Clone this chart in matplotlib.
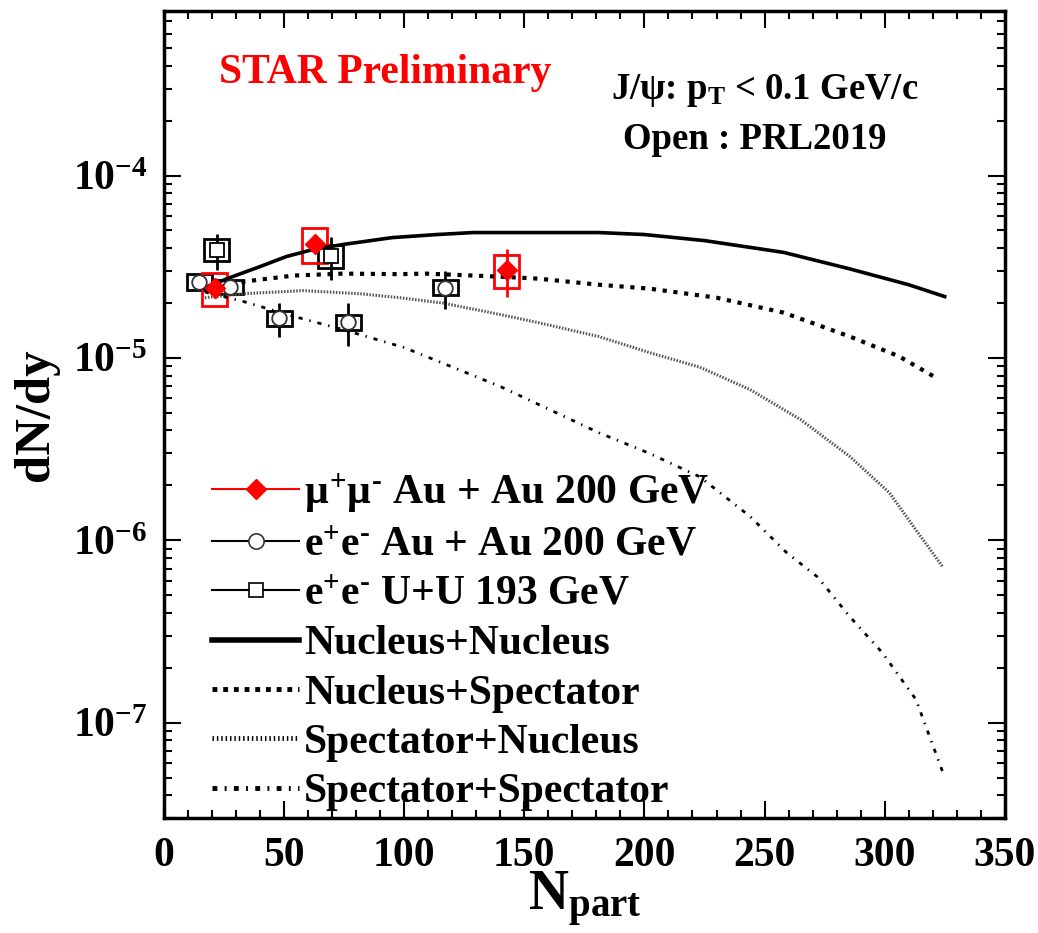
import numpy as np
import matplotlib
matplotlib.use("Agg")
import matplotlib.pyplot as plt
from matplotlib.lines import Line2D
from matplotlib.ticker import LogLocator, LogFormatterMathtext, MultipleLocator, NullFormatter

plt.rcParams['font.family'] = ['Liberation Serif', 'DejaVu Serif']
plt.rcParams['font.weight'] = 'bold'
plt.rcParams['axes.labelweight'] = 'bold'
plt.rcParams['mathtext.fontset'] = 'custom'
plt.rcParams['mathtext.rm'] = 'Liberation Serif:bold'
plt.rcParams['mathtext.it'] = 'Liberation Serif:bold'
plt.rcParams['mathtext.bf'] = 'Liberation Serif:bold'

# mu+mu- Au+Au 200 GeV (STAR preliminary)
mu_x = [21.2, 62.8, 142.7]
mu_y = [2.43e-5, 4.23e-5, 3.05e-5]
mu_stat = [0.30e-5, 0.45e-5, 0.90e-5]
mu_sys = [0.50e-5, 0.90e-5, 0.62e-5]

# e+e- Au+Au 200 GeV (PRL2019)
ee_au_x = [14.6, 27.5, 48.0, 76.6, 117.0]
ee_au_y = [2.62e-5, 2.46e-5, 1.66e-5, 1.58e-5, 2.43e-5]
ee_au_stat = [0.20e-5, 0.20e-5, 0.35e-5, 0.42e-5, 0.58e-5]
ee_au_sys = [0.27e-5, 0.23e-5, 0.16e-5, 0.15e-5, 0.23e-5]

# e+e- U+U 193 GeV (PRL2019)
ee_uu_x = [22.0, 69.5]
ee_uu_y = [3.93e-5, 3.64e-5]
ee_uu_stat = [0.88e-5, 0.95e-5]
ee_uu_sys = [0.55e-5, 0.52e-5]

# model curves
nn_x = [17, 27.5, 40, 51, 62, 74.5, 95, 113.6, 128.6, 156.5, 181, 200, 225, 258, 285, 310, 325]
nn_y = [2.43e-5, 2.76e-5, 3.17e-5, 3.6e-5, 3.93e-5, 4.19e-5, 4.57e-5, 4.75e-5, 4.87e-5,
        4.87e-5, 4.87e-5, 4.75e-5, 4.4e-5, 3.79e-5, 3.09e-5, 2.52e-5, 2.17e-5]

ns_x = [19, 33, 54, 74.5, 98, 109, 140, 156, 181, 202, 230, 258, 285.5, 306, 322]
ns_y = [2.37e-5, 2.62e-5, 2.83e-5, 2.9e-5, 2.88e-5, 2.9e-5, 2.79e-5, 2.72e-5, 2.52e-5,
        2.4e-5, 2.14e-5, 1.77e-5, 1.31e-5, 1.02e-5, 7.7e-6]

sn_x = [17, 33, 58, 81.6, 98, 116, 140, 156, 181, 202, 223, 244, 265, 285.5, 302, 313, 324]
sn_y = [2.14e-5, 2.25e-5, 2.34e-5, 2.25e-5, 2.14e-5, 2.0e-5, 1.73e-5, 1.56e-5, 1.31e-5,
        1.07e-5, 8.9e-6, 6.7e-6, 4.59e-6, 2.88e-6, 1.82e-6, 1.14e-6, 7.2e-7]

ss_x = [17, 33, 54, 74.5, 100, 140, 181, 202, 223, 244, 259, 272, 285.5, 299, 313, 325]
ss_y = [2.3e-5, 2.04e-5, 1.69e-5, 1.43e-5, 1.14e-5, 6.97e-6, 3.89e-6, 3.0e-6, 2.23e-6,
        1.35e-6, 8.6e-7, 6.3e-7, 3.81e-7, 2.42e-7, 1.34e-7, 5.0e-8]

fig = plt.figure(figsize=(10.38, 9.33), dpi=100)
ax = fig.add_axes([0.158, 0.1233, 0.81, 0.865])

# curves
ax.plot(nn_x, nn_y, color='black', lw=2.6, ls='-')
ax.plot(ns_x, ns_y, color='black', lw=3.0, ls=(0, (1, 1.6)))
ax.plot(sn_x, sn_y, color='#555555', lw=2.2, ls=(0, (0.5, 0.5)))
ax.plot(ss_x, ss_y, color='black', lw=2.0, ls=(0, (1.5, 2.5, 0.5, 2.5)))

box_w = 10.4

# systematic boxes
ax.bar(ee_au_x, [2 * s for s in ee_au_sys], width=box_w,
       bottom=[y - s for y, s in zip(ee_au_y, ee_au_sys)],
       fill=False, edgecolor='black', lw=2)
ax.bar(ee_uu_x, [2 * s for s in ee_uu_sys], width=box_w,
       bottom=[y - s for y, s in zip(ee_uu_y, ee_uu_sys)],
       fill=False, edgecolor='black', lw=2)
ax.bar(mu_x, [2 * s for s in mu_sys], width=box_w,
       bottom=[y - s for y, s in zip(mu_y, mu_sys)],
       fill=False, edgecolor='red', lw=2)

# statistical errors
ax.errorbar(ee_au_x, ee_au_y, yerr=ee_au_stat, fmt='none', ecolor='black', elinewidth=2)
ax.errorbar(ee_uu_x, ee_uu_y, yerr=ee_uu_stat, fmt='none', ecolor='black', elinewidth=2)
ax.errorbar(mu_x, mu_y, yerr=mu_stat, fmt='none', ecolor='red', elinewidth=2)

# markers
ax.plot(ee_au_x, ee_au_y, ls='none', marker='o', ms=10.5, mfc='white', mec='#333333', mew=1.3)
ax.plot(ee_uu_x, ee_uu_y, ls='none', marker='s', ms=10, mfc='white', mec='black', mew=1.3)
ax.plot(mu_x, mu_y, ls='none', marker='D', ms=10, mfc='red', mec='red')

ax.set_yscale('log')
ax.set_xlim(0, 350)
ax.set_ylim(3.0e-8, 8.0e-4)

ax.xaxis.set_major_locator(MultipleLocator(50))
ax.xaxis.set_minor_locator(MultipleLocator(10))
ax.yaxis.set_major_locator(LogLocator(base=10, numticks=20))
ax.yaxis.set_minor_locator(LogLocator(base=10, subs=np.arange(2, 10), numticks=20))
ax.yaxis.set_major_formatter(LogFormatterMathtext())
ax.yaxis.set_minor_formatter(NullFormatter())

ax.tick_params(which='both', direction='in', top=True, right=True, width=1.5)
ax.tick_params(which='major', length=12, labelsize=30)
ax.tick_params(axis='x', which='major', pad=14)
ax.tick_params(axis='y', which='major', pad=12)
ax.tick_params(which='minor', length=6)
for sp in ax.spines.values():
    sp.set_linewidth(2.5)

ax.set_xlabel(r'N$_{\mathregular{part}}$', fontsize=40, fontweight='bold', labelpad=-4)
ax.set_ylabel('dN/dy', fontsize=36.5, fontweight='bold', labelpad=10)

ax.text(0.066, 0.923, 'STAR Preliminary', transform=ax.transAxes, color='red',
        fontsize=30, ha='left', va='center')
ax.text(0.532, 0.902, r'J/$\psi$: p$_{T}$ < 0.1 GeV/c', transform=ax.transAxes,
        fontsize=26.5, ha='left', va='center')
ax.text(0.546, 0.841, 'Open : PRL2019', transform=ax.transAxes,
        fontsize=26.5, ha='left', va='center')

handles = [
    Line2D([], [], color='red', lw=1.5, marker='D', ms=10, mfc='red', mec='red'),
    Line2D([], [], color='black', lw=1.5, marker='o', ms=11, mfc='white', mec='#333333', mew=1.2),
    Line2D([], [], color='black', lw=1.5, marker='s', ms=10, mfc='white', mec='black', mew=1.2),
    Line2D([], [], color='black', lw=4.0, ls='-'),
    Line2D([], [], color='black', lw=3.5, ls=(0, (1, 1.2))),
    Line2D([], [], color='black', lw=3.5, ls=(0, (0.3, 0.6))),
    Line2D([], [], color='black', lw=3.5, ls=(0, (1, 1.5, 0.4, 1.5))),
]
labels = [
    r'$\mu^{+}\mu^{\text{-}}$ Au + Au 200 GeV',
    r'e$^{+}$e$^{\text{-}}$ Au + Au 200 GeV',
    r'e$^{+}$e$^{\text{-}}$ U+U 193 GeV',
    'Nucleus+Nucleus',
    'Nucleus+Spectator',
    'Spectator+Nucleus',
    'Spectator+Spectator',
]
leg = ax.legend(handles, labels, loc='upper left', bbox_to_anchor=(0.037, 0.45),
                frameon=False, fontsize=30, handlelength=2.1, handletextpad=0.12,
                labelspacing=0.27, borderaxespad=0)

fig.savefig('out.png', dpi=100)
